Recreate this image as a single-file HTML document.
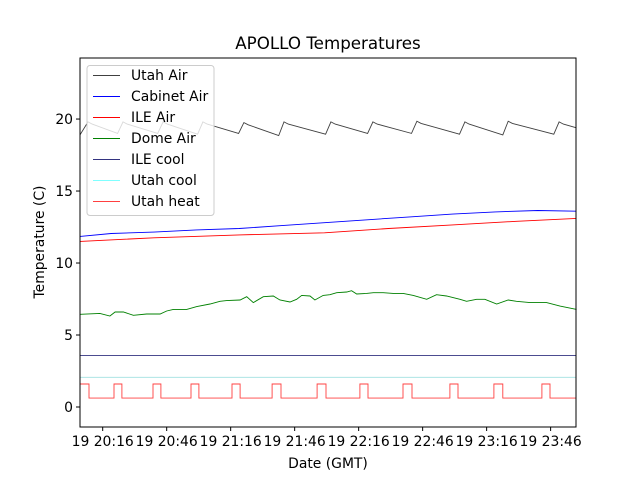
<!DOCTYPE html>
<html><head><meta charset="utf-8"><style>
body{margin:0;background:#fff;}
svg text{font-family:"DejaVu Sans","Liberation Sans",sans-serif;fill:#000;}
</style></head><body>
<svg id="chart" width="640" height="480" xmlns="http://www.w3.org/2000/svg">
<rect width="640" height="480" fill="#fff"/>
<text x="328" y="49" font-size="16.7" text-anchor="middle">APOLLO Temperatures</text>
<g id="plot"></g>
<g id="axes"></g>
<text x="328" y="468" font-size="13.9" text-anchor="middle">Date (GMT)</text>
<text transform="translate(44,242) rotate(-90)" font-size="13.9" text-anchor="middle">Temperature (C)</text>
<g id="legend"></g>
</svg>
<script>
// minutes after 19 20:00 GMT
const xTickMinutes=[16,46,76,106,136,166,196,226];
const xTickLabels=["19 20:16","19 20:46","19 21:16","19 21:46","19 22:16","19 22:46","19 23:16","19 23:46"];
const yTicks=[0,5,10,15,20];
const utahAirPeakT=[9.1,25.5,44.3,63,82.2,101,123,142.7,163.3,185.8,206.1,230];
const utahAirPeakV=[19.8,19.8,19.8,19.8,19.75,19.8,19.8,19.8,19.85,19.8,19.85,19.8];
const utahAirTroughV=[18.9,19.0,19.0,18.95,19.0,18.85,18.95,19.0,19.0,18.95,18.9,18.95];
const utahAirEnd=19.4;
const cabT=[5.4,20,40,60,80,100,120,140,160,180,200,220,238];
const cabV=[11.85,12.05,12.15,12.3,12.4,12.6,12.8,13.0,13.2,13.4,13.55,13.65,13.6];
const ileT=[5.4,40,80,120,150,180,210,238];
const ileV=[11.5,11.75,11.95,12.1,12.4,12.65,12.9,13.1];
const domeT=[5.4,14.7,19.4,21.8,25.7,30.4,36.6,42.9,46,49.1,55.4,60.1,66.3,71,74.1,80.4,83.5,86.6,91.3,96,99.1,103.8,106.9,109.3,113.2,115.5,119.4,122.5,125.7,130.4,132.7,135.1,139.7,142.9,147.5,152.2,156.9,161.6,167.9,172.5,177.2,183.5,186.6,191.3,195.2,200.7,206.1,210,216.3,224.1,230.4,238.2];
const domeV=[6.44,6.5,6.32,6.6,6.6,6.37,6.46,6.46,6.67,6.78,6.78,6.97,7.15,7.34,7.39,7.43,7.66,7.25,7.66,7.71,7.43,7.29,7.48,7.75,7.71,7.43,7.75,7.8,7.94,7.99,8.08,7.85,7.89,7.94,7.94,7.89,7.89,7.75,7.48,7.8,7.71,7.48,7.34,7.48,7.48,7.15,7.43,7.34,7.25,7.25,7.01,6.78];
const ileCoolV=3.58;
const utahCoolV=2.06;
const heatOn=[[5.4,9.6],[21.3,25.0],[39.6,43.3],[57.4,61.1],[76.6,80.4],[95.4,99.6],[116.5,120.7],[136.6,140.4],[156.8,161.0],[178.8,182.6],[199.4,203.6],[221.9,225.7]];
const heatHigh=1.6, heatLow=0.62;

const L=80,R=576,T=58,B=427;
const tMin=5.36,tMax=237.9,vMin=-1.39,vMax=24.24;
const X=t=>L+(t-tMin)/(tMax-tMin)*(R-L);
const Y=v=>B-(v-vMin)/(vMax-vMin)*(B-T);
const NS="http://www.w3.org/2000/svg";
function mk(tag,attrs,parent){const e=document.createElementNS(NS,tag);for(const k in attrs)e.setAttribute(k,attrs[k]);parent.appendChild(e);return e;}
const plot=document.getElementById('plot'),axes=document.getElementById('axes'),leg=document.getElementById('legend');
function line(ts,vs,color,name){
  const d=ts.map((t,i)=>(i?'L':'M')+X(t).toFixed(1)+','+Y(vs[i]).toFixed(1)).join('');
  const p=mk('path',{d:d,fill:'none',stroke:color,'stroke-width':0.9},plot);
  
  
}
// Utah Air
{let ts=[tMin],vs=[utahAirTroughV[0]];
 for(let i=0;i<utahAirPeakT.length;i++){
  if(i>0){ts.push(utahAirPeakT[i]-2.5);vs.push(utahAirTroughV[i]);}
  ts.push(utahAirPeakT[i]);vs.push(utahAirPeakV[i]);
  ts.push(utahAirPeakT[i]+2);vs.push(utahAirPeakV[i]-0.15);
 }
 ts.push(tMax);vs.push(utahAirEnd);
 line(ts,vs,'#404040','utah-air-line');}
line(cabT,cabV,'#0000ff','cabinet-air-line');
line(ileT,ileV,'#ff0000','ile-air-line');
line(domeT,domeV,'#008000','dome-air-line');
line([tMin,tMax],[ileCoolV,ileCoolV],'#333380','ile-cool-line');
line([tMin,tMax],[utahCoolV,utahCoolV],'#a0e0e0','utah-cool-line');
{let ts=[],vs=[];heatOn.forEach((p,i)=>{if(i===0){ts.push(p[0]);vs.push(heatHigh);}else{ts.push(p[0],p[0]);vs.push(heatLow,heatHigh);}ts.push(p[1],p[1]);vs.push(heatHigh,heatLow);});ts.push(tMax);vs.push(heatLow);
 line(ts,vs,'#ff4040','utah-heat-line');}
// frame
const fr=mk('rect',{x:L,y:T,width:R-L,height:B-T,fill:'none',stroke:'#000','stroke-width':1},axes);


xTickMinutes.forEach((t,i)=>{const x=X(t);
 mk('line',{x1:x,x2:x,y1:B,y2:B+4,stroke:'#000'},axes);
 const tx=mk('text',{x:x,y:B+19,'font-size':13.9,'text-anchor':'middle'},axes);tx.textContent=xTickLabels[i];
 
 });
yTicks.forEach(v=>{const y=Y(v);
 mk('line',{x1:L-4,x2:L,y1:y,y2:y,stroke:'#000'},axes);
 const tx=mk('text',{x:L-7,y:y+5,'font-size':13.9,'text-anchor':'end'},axes);tx.textContent=v;
 
 });
// legend
const entries=[["Utah Air","#404040"],["Cabinet Air","#0000ff"],["ILE Air","#ff0000"],["Dome Air","#008000"],["ILE cool","#333380"],["Utah cool","#80ffff"],["Utah heat","#ff4040"]];
const lb=mk('rect',{x:87,y:65.5,width:127,height:150,rx:3,fill:'#fff','fill-opacity':0.8,stroke:'#ccc'},leg);


entries.forEach((e,i)=>{const y=Math.round(75+i*21);
 const g=mk('g',{},leg);
 
 
 mk('rect',{x:93,y:y,width:27,height:1,fill:e[1]},g);
 const tx=mk('text',{x:131,y:y+5,'font-size':13.9},g);tx.textContent=e[0];});
</script>
</body></html>
